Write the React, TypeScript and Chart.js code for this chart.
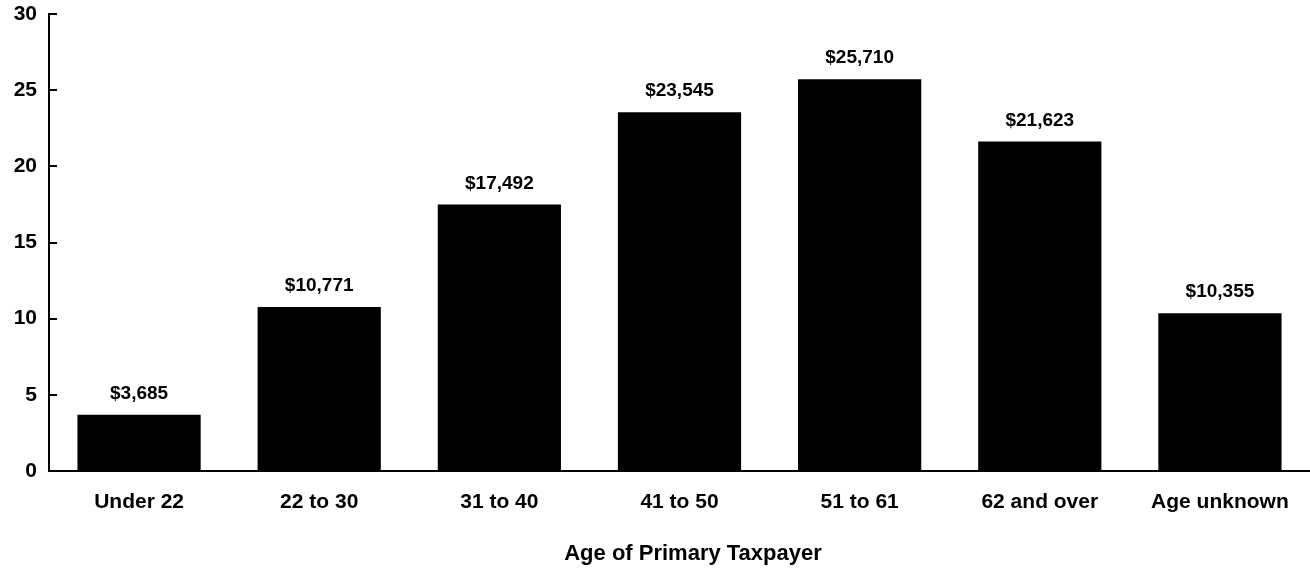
import React, { useEffect, useRef } from "react";
import { Chart, registerables } from "chart.js";

Chart.register(...registerables);

const categories = ["Under 22", "22 to 30", "31 to 40", "41 to 50", "51 to 61", "62 and over", "Age unknown"];
const valuesDollars = [3685, 10771, 17492, 23545, 25710, 21623, 10355];
const yTicks = [0, 5, 10, 15, 20, 25, 30];
const xAxisTitle = "Age of Primary Taxpayer";

const FONT = "'Liberation Sans', Arial, Helvetica, sans-serif";

export default function App() {
  const ref = useRef<HTMLCanvasElement | null>(null);

  useEffect(() => {
    const canvas = ref.current;
    if (!canvas) return;

    const innerTicks = {
      id: "innerTicks",
      afterDraw(chart: any) {
        const ctx = chart.ctx;
        const y = chart.scales.y;
        const area = chart.chartArea;
        ctx.save();
        ctx.strokeStyle = "#000";
        ctx.lineWidth = 2;
        yTicks.forEach((t) => {
          if (t === 0) return;
          const py = Math.round(y.getPixelForValue(t));
          ctx.beginPath();
          ctx.moveTo(area.left, py);
          ctx.lineTo(area.left + 8, py);
          ctx.stroke();
        });
        ctx.restore();
      },
    };

    const barLabels = {
      id: "barLabels",
      afterDatasetsDraw(chart: any) {
        const ctx = chart.ctx;
        const meta = chart.getDatasetMeta(0);
        ctx.save();
        ctx.fillStyle = "#000";
        ctx.font = `bold 19px ${FONT}`;
        ctx.textAlign = "center";
        ctx.textBaseline = "alphabetic";
        meta.data.forEach((bar: any, i: number) => {
          const txt = "$" + valuesDollars[i].toLocaleString("en-US");
          ctx.fillText(txt, bar.x, bar.y - 16);
        });
        ctx.restore();
      },
    };

    const axisTitle = {
      id: "axisTitle",
      afterDraw(chart: any) {
        const ctx = chart.ctx;
        ctx.save();
        ctx.fillStyle = "#000";
        ctx.font = `bold 22px ${FONT}`;
        ctx.textAlign = "center";
        ctx.textBaseline = "alphabetic";
        ctx.fillText(xAxisTitle, 693, 560);
        ctx.restore();
      },
    };

    const chart = new Chart(canvas, {
      type: "bar",
      data: {
        labels: categories,
        datasets: [
          {
            data: valuesDollars.map((v) => v / 1000),
            backgroundColor: "#000",
            borderWidth: 0,
            barPercentage: 0.76,
            categoryPercentage: 0.9,
          },
        ],
      },
      options: {
        animation: false,
        responsive: false,
        maintainAspectRatio: false,
        layout: { padding: { top: 14, left: 0, right: 0, bottom: 0 } },
        plugins: {
          legend: { display: false },
          tooltip: { enabled: false },
          title: { display: false },
        },
        scales: {
          x: {
            afterFit(scale: any) {
              scale.height = 100;
              scale.paddingLeft = 0;
              scale.paddingRight = 0;
            },
            grid: { display: false, drawTicks: false },
            border: { display: true, color: "#000", width: 2 },
            ticks: {
              color: "#000",
              font: { family: FONT, size: 21, weight: "bold" },
              padding: 19,
              maxRotation: 0,
              autoSkip: false,
            },
          },
          y: {
            min: 0,
            max: 30,
            afterFit(scale: any) {
              scale.width = 49;
              scale.paddingTop = 0;
              scale.paddingBottom = 0;
            },
            afterBuildTicks(scale: any) {
              scale.ticks = yTicks.map((v) => ({ value: v }));
            },
            grid: { display: false, drawTicks: false },
            border: { display: true, color: "#000", width: 2 },
            ticks: {
              color: "#000",
              font: { family: FONT, size: 21, weight: "bold" },
              padding: 12,
            },
          },
        },
      },
      plugins: [innerTicks, barLabels, axisTitle],
    } as any);

    return () => chart.destroy();
  }, []);

  return (
    <div style={{ position: "fixed", left: 0, top: 0, width: 1310, height: 571, background: "#fff" }}>
      <canvas ref={ref} width={1310} height={571} style={{ display: "block", width: 1310, height: 571 }} />
    </div>
  );
}
